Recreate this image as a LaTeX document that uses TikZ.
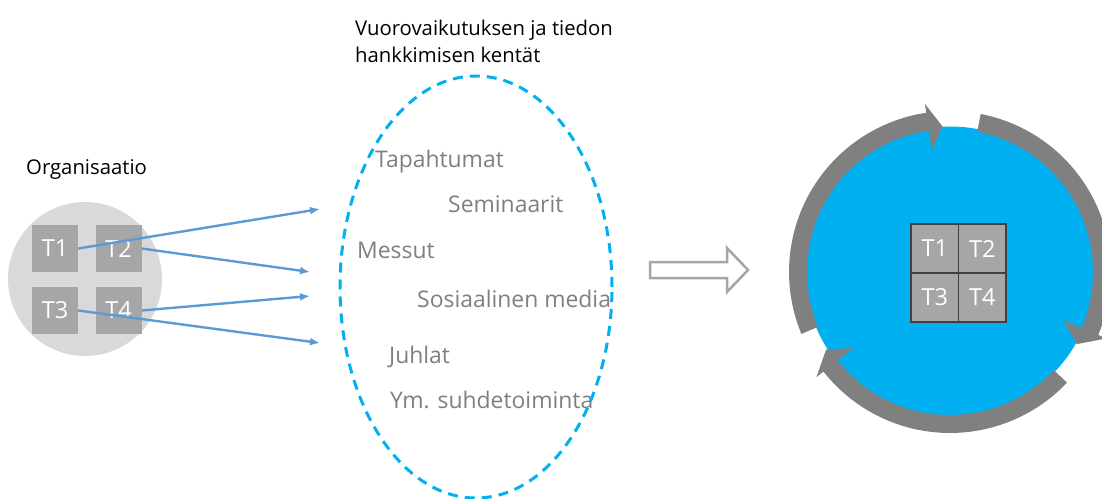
\documentclass[tikz,border=0pt]{standalone}
\usepackage{fontspec}
\setmainfont{Open Sans}
\usetikzlibrary{arrows.meta,shapes.geometric}
\definecolor{orgfill}{HTML}{D9D9D9}
\definecolor{tilefill}{HTML}{A6A6A6}
\definecolor{linkblue}{HTML}{5B9BD5}
\definecolor{fieldblue}{HTML}{00B0F0}
\definecolor{labelgrey}{HTML}{7F7F7F}
\definecolor{ringgrey}{HTML}{808080}
\definecolor{gridline}{HTML}{404040}
\begin{document}
\begin{tikzpicture}[x=1pt,y=1pt,
  tile/.style={fill=tilefill, minimum width=46pt, minimum height=47pt, inner sep=0pt,
    text=white, font=\fontsize{23.5}{28}\selectfont},
  cell/.style={tile, draw=gridline, line width=1.2pt, minimum width=47.5pt, minimum height=49pt},
  link/.style={draw=linkblue, line width=2.4pt, -{Latex[length=10pt,width=8pt]}},
  field/.style={text=labelgrey, anchor=base west, inner sep=0pt, font=\fontsize{22.9}{28}\selectfont},
  caption/.style={anchor=base west, inner sep=0pt, font=\fontsize{20.3}{26}\selectfont},
  ringarc/.style={fill=ringgrey}]
\useasboundingbox (0,0) rectangle (1102,-498);

% --- organisation with its four teams ---
\node[caption] (orgname) at (26,-174) {Organisaatio};
\node[circle, fill=orgfill, minimum size=154pt, inner sep=0pt] (org) at (85,-279) {};
\node[tile] (t1) at (55,-248.5) {T1};
\node[tile] (t2) at (118.5,-248.5) {T2};
\node[tile] (t3) at (55,-310.5) {T3};
\node[tile] (t4) at (118.5,-310.5) {T4};

% --- links towards the fields ---
\coordinate (e1) at (320,-209);
\coordinate (e2) at (310,-272);
\coordinate (e3) at (310,-296);
\coordinate (e4) at (320,-343);
\draw[link] (t1.east) -- (e1);
\draw[link] (t2.east) -- (e2);
\draw[link] (t4.east) -- (e3);
\draw[link] (t3.east) -- (e4);

% --- fields of interaction ---
\node[caption] (cap1) at (355,-35) {Vuorovaikutuksen ja tiedon};
\node[caption] (cap2) at (355,-62) {hankkimisen kentät};
\node[field] (f1) at (375,-167) {Tapahtumat};
\node[field] (f2) at (448,-212) {Seminaarit};
\node[field] (f3) at (357,-258) {Messut};
\node[field] (f4) at (417,-307) {Sosiaalinen media};
\node[field] (f5) at (389,-363) {Juhlat};
\node[field] (f6) at (390,-408) {Ym. suhdetoiminta};
\node[ellipse, draw=fieldblue, line width=3pt, dash pattern=on 10pt off 7pt,
  minimum width=272pt, minimum height=422pt, inner sep=0pt] (fields) at (476,-287) {};

% --- outlined block arrow ---
\draw[draw=tilefill, line width=2.5pt, fill=white, line join=miter]
  (650,-262) -- (727,-262) -- (727,-248) -- (748,-270) -- (727,-292)
  -- (727,-278) -- (650,-278) -- cycle;

% --- integrated organisation with circular flow ---
\node[circle, fill=fieldblue, minimum size=290pt, inner sep=0pt] (hub) at (950,-271.5) {};
\begin{scope}[shift={(950,-272)}]
  \fill[ringarc] (202.6:161) arc[start angle=202.6, end angle=98.5, radius=161]
    -- (98.5:170) -- (93:146) -- (98.5:123) -- (98.5:143)
    arc[start angle=98.5, end angle=202.6, radius=143] -- cycle;
  \fill[ringarc] (79:161) arc[start angle=79, end angle=-23, radius=161]
    -- (-23:170) -- (-29.6:146) -- (-23:123) -- (-23:143)
    arc[start angle=-23, end angle=79, radius=143] -- cycle;
  \fill[ringarc] (-43.4:161) arc[start angle=-43.4, end angle=-141.8, radius=161]
    -- (-141.8:170) -- (-148:146) -- (-141.8:123) -- (-141.8:143)
    arc[start angle=-141.8, end angle=-43.4, radius=143] -- cycle;
\end{scope}
\node[cell] (g1) at (934.75,-248.5) {T1};
\node[cell] (g2) at (982.25,-248.5) {T2};
\node[cell] (g3) at (934.75,-297.5) {T3};
\node[cell] (g4) at (982.25,-297.5) {T4};
\end{tikzpicture}
\end{document}
